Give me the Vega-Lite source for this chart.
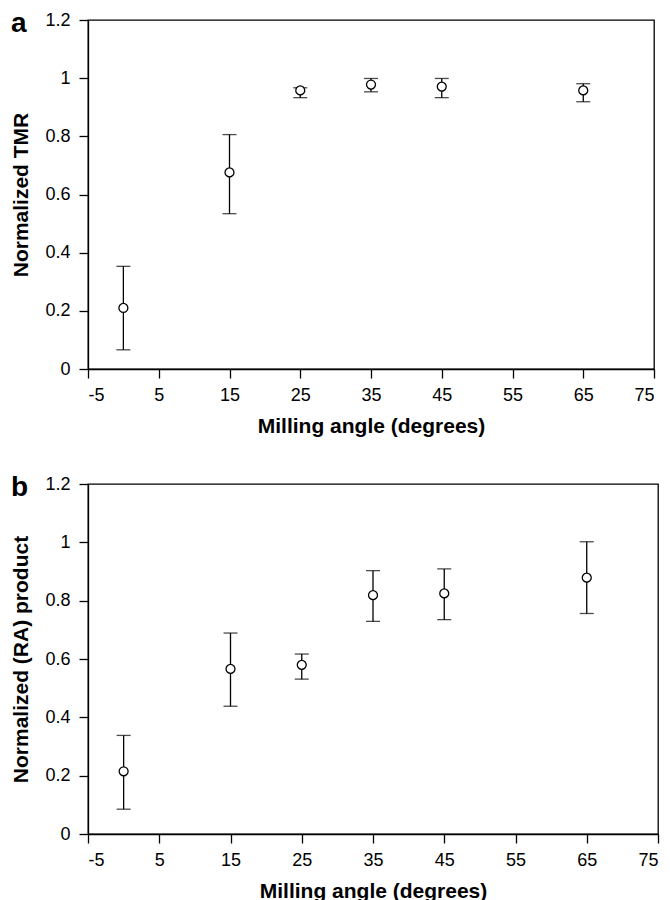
{
  "$schema": "https://vega.github.io/schema/vega-lite/v6.json",
  "background": "white",
  "padding": {"left": 9, "top": 8, "right": 5, "bottom": 0},
  "spacing": 115,
  "bounds": "flush",
  "config": {
    "font": "Liberation Sans",
    "view": {"stroke": "black", "strokeWidth": 1.3},
    "axis": {
      "grid": false,
      "domainColor": "black",
      "domainWidth": 1.3,
      "tickColor": "black",
      "tickWidth": 1.3,
      "tickSize": 9,
      "labelFont": "Liberation Sans",
      "labelFontSize": 18,
      "labelColor": "black",
      "titleFont": "Liberation Sans",
      "titleFontSize": 21,
      "titleFontWeight": "bold",
      "titleColor": "black"
    },
    "title": {"font": "Liberation Sans", "fontSize": 28, "fontWeight": "bold", "color": "black", "anchor": "start", "frame": "group"}
  },
  "datasets": {
    "tmr": [
      {"angle": 0, "value": 0.21, "lower": 0.066, "upper": 0.353},
      {"angle": 15, "value": 0.676, "lower": 0.534, "upper": 0.806},
      {"angle": 25, "value": 0.958, "lower": 0.933, "upper": 0.967},
      {"angle": 35, "value": 0.978, "lower": 0.953, "upper": 0.999},
      {"angle": 45, "value": 0.971, "lower": 0.933, "upper": 0.999},
      {"angle": 65, "value": 0.958, "lower": 0.919, "upper": 0.981}
    ],
    "ra": [
      {"angle": 0, "value": 0.215, "lower": 0.085, "upper": 0.338},
      {"angle": 15, "value": 0.566, "lower": 0.438, "upper": 0.689},
      {"angle": 25, "value": 0.58, "lower": 0.531, "upper": 0.617},
      {"angle": 35, "value": 0.819, "lower": 0.729, "upper": 0.903},
      {"angle": 45, "value": 0.825, "lower": 0.735, "upper": 0.909},
      {"angle": 65, "value": 0.879, "lower": 0.756, "upper": 1.002}
    ]
  },
  "vconcat": [
    {
      "width": 566,
      "height": 349,
      "title": {"text": "a", "dx": -77, "dy": 48.5, "baseline": "alphabetic", "offset": 0},
      "data": {"name": "tmr"},
      "encoding": {
        "x": {
          "field": "angle", "type": "quantitative",
          "scale": {"domain": [-5, 75], "nice": false, "zero": false},
          "axis": {"values": [-5, 5, 15, 25, 35, 45, 55, 65, 75], "title": "Milling angle (degrees)", "labelExpr": "'' + datum.value", "labelPadding": 8.5, "titleY": 63, "titleBaseline": "alphabetic"}
        }
      },
      "layer": [
        {
          "mark": {"type": "errorbar", "ticks": {"size": 14, "color": "black", "thickness": 1.3}, "rule": {"color": "black", "strokeWidth": 1.3}},
          "encoding": {
            "y": {"field": "lower", "type": "quantitative", "scale": {"domain": [0, 1.2], "nice": false},
              "axis": {"values": [0, 0.2, 0.4, 0.6, 0.8, 1, 1.2], "format": "~g", "title": "Normalized TMR", "labelPadding": 9, "titleX": -61, "titleBaseline": "alphabetic"}},
            "y2": {"field": "upper"}
          }
        },
        {
          "mark": {"type": "point", "shape": "circle", "filled": true, "fill": "white", "stroke": "black", "strokeWidth": 1.3, "size": 80, "opacity": 1},
          "encoding": {
            "y": {"field": "value", "type": "quantitative",
              "axis": {"values": [0, 0.2, 0.4, 0.6, 0.8, 1, 1.2], "format": "~g", "title": "Normalized TMR", "labelPadding": 9, "titleX": -61, "titleBaseline": "alphabetic"}}
          }
        }
      ]
    },
    {
      "width": 570,
      "height": 350,
      "title": {"text": "b", "dx": -77, "dy": 48.5, "baseline": "alphabetic", "offset": 0},
      "data": {"name": "ra"},
      "encoding": {
        "x": {
          "field": "angle", "type": "quantitative",
          "scale": {"domain": [-5, 75], "nice": false, "zero": false},
          "axis": {"values": [-5, 5, 15, 25, 35, 45, 55, 65, 75], "title": "Milling angle (degrees)", "labelExpr": "'' + datum.value", "labelPadding": 8.5, "titleY": 63, "titleBaseline": "alphabetic"}
        }
      },
      "layer": [
        {
          "mark": {"type": "errorbar", "ticks": {"size": 14, "color": "black", "thickness": 1.3}, "rule": {"color": "black", "strokeWidth": 1.3}},
          "encoding": {
            "y": {"field": "lower", "type": "quantitative", "scale": {"domain": [0, 1.2], "nice": false},
              "axis": {"values": [0, 0.2, 0.4, 0.6, 0.8, 1, 1.2], "format": "~g", "title": "Normalized (RA) product", "labelPadding": 9, "titleX": -61, "titleBaseline": "alphabetic"}},
            "y2": {"field": "upper"}
          }
        },
        {
          "mark": {"type": "point", "shape": "circle", "filled": true, "fill": "white", "stroke": "black", "strokeWidth": 1.3, "size": 80, "opacity": 1},
          "encoding": {
            "y": {"field": "value", "type": "quantitative",
              "axis": {"values": [0, 0.2, 0.4, 0.6, 0.8, 1, 1.2], "format": "~g", "title": "Normalized (RA) product", "labelPadding": 9, "titleX": -61, "titleBaseline": "alphabetic"}}
          }
        }
      ]
    }
  ]
}
